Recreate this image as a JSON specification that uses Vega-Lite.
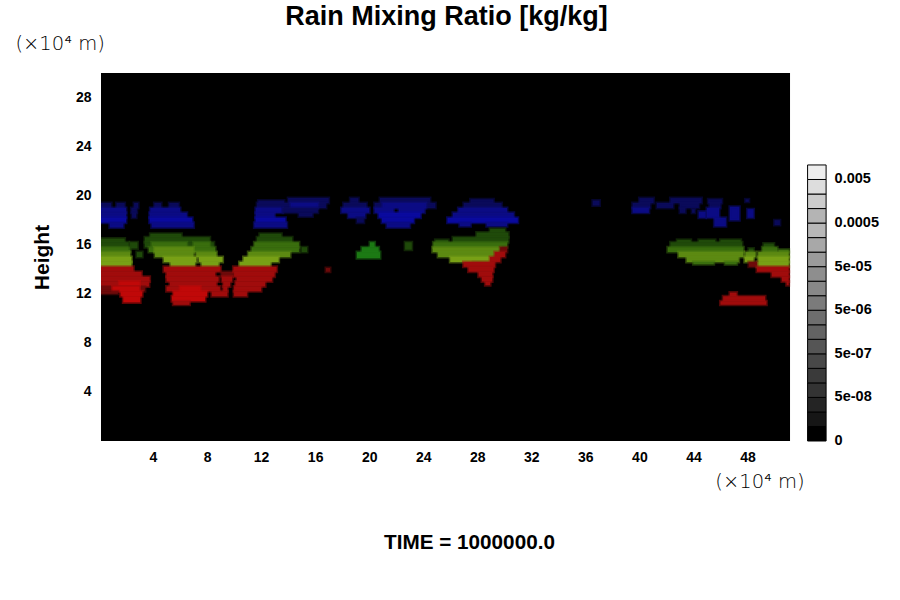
{
"$schema":"https://vega.github.io/schema/vega-lite/v6.json",
"width":799,"height":368,
"autosize":{"type":"none"},
"padding":{"left":101,"top":73,"right":0,"bottom":159},
"background":"#ffffff",
"view":{"stroke":null},
"title":{"text":"Rain Mixing Ratio [kg/kg]","anchor":"middle","dx":-54,"offset":3,"font":"Liberation Sans","fontSize":27,"fontWeight":"bold","color":"#000000"},
"datasets":{
"cells":[
{"x":0.15,"x2":51.15,"y":0,"y2":30,"c":"bg"},
{"x":0.15,"x2":0.9,"y":19,"y2":19.4,"c":"b1"},{"x":1.3,"x2":1.9,"y":19,"y2":19.4,"c":"b1"},{"x":0.15,"x2":2,"y":18.6,"y2":19,"c":"b2"},{"x":0.15,"x2":2,"y":18.2,"y2":18.6,"c":"b2"},{"x":0.15,"x2":2,"y":17.8,"y2":18.2,"c":"b3"},{"x":0.8,"x2":1.8,"y":17.4,"y2":17.8,"c":"b2"},
{"x":2.4,"x2":2.8,"y":18.6,"y2":19,"c":"b1"},{"x":2.45,"x2":2.75,"y":18.2,"y2":18.6,"c":"b1"},{"x":2.6,"x2":2.9,"y":19,"y2":19.4,"c":"b1"},
{"x":4.1,"x2":4.6,"y":19,"y2":19.4,"c":"b1"},{"x":5.2,"x2":5.9,"y":19,"y2":19.4,"c":"b1"},{"x":3.8,"x2":6,"y":18.6,"y2":19,"c":"b2"},{"x":3.75,"x2":6.5,"y":18.2,"y2":18.6,"c":"b2"},{"x":3.75,"x2":6.9,"y":17.8,"y2":18.2,"c":"b3"},{"x":3.9,"x2":7,"y":17.4,"y2":17.8,"c":"b2"},
{"x":14,"x2":17,"y":19.4,"y2":19.8,"c":"b1"},{"x":11.8,"x2":13.7,"y":19.4,"y2":19.6,"c":"b1"},{"x":11.7,"x2":16.8,"y":19,"y2":19.4,"c":"b1"},{"x":14.2,"x2":16.2,"y":19,"y2":19.4,"c":"b2"},{"x":11.6,"x2":13.6,"y":18.6,"y2":19,"c":"b2"},{"x":13.6,"x2":16.2,"y":18.6,"y2":19,"c":"b1"},{"x":11.6,"x2":13,"y":18.2,"y2":18.6,"c":"b2"},{"x":14.8,"x2":15.8,"y":18.3,"y2":18.6,"c":"b1"},{"x":11.6,"x2":13.8,"y":17.8,"y2":18.2,"c":"b3"},{"x":11.5,"x2":13.9,"y":17.4,"y2":17.8,"c":"b2"},
{"x":18.6,"x2":19.2,"y":19.4,"y2":19.8,"c":"b1"},{"x":18.1,"x2":19.8,"y":19,"y2":19.4,"c":"b1"},{"x":17.95,"x2":20,"y":18.6,"y2":19,"c":"b2"},{"x":18.45,"x2":19.7,"y":18.2,"y2":18.6,"c":"b2"},{"x":19.1,"x2":19.6,"y":17.8,"y2":18.2,"c":"b1"},
{"x":20.8,"x2":24.5,"y":19.4,"y2":19.8,"c":"b1"},{"x":20.4,"x2":24.9,"y":19,"y2":19.4,"c":"b1"},{"x":21,"x2":24.2,"y":19,"y2":19.4,"c":"b2"},{"x":20.4,"x2":21.8,"y":18.6,"y2":19,"c":"b2"},{"x":22.2,"x2":24.1,"y":18.6,"y2":19,"c":"b2"},{"x":20.7,"x2":23.8,"y":18.2,"y2":18.6,"c":"b3"},{"x":20.95,"x2":23.3,"y":17.8,"y2":18.2,"c":"b3"},{"x":21.3,"x2":23,"y":17.4,"y2":17.8,"c":"b2"},
{"x":27.5,"x2":29.2,"y":19.4,"y2":19.7,"c":"b1"},{"x":27,"x2":29.8,"y":19,"y2":19.4,"c":"b1"},{"x":26.6,"x2":30.2,"y":18.6,"y2":19,"c":"b2"},{"x":26.2,"x2":30.7,"y":18.2,"y2":18.6,"c":"b2"},{"x":25.8,"x2":31,"y":17.8,"y2":18.2,"c":"b3"},{"x":26.7,"x2":27.5,"y":17.5,"y2":17.8,"c":"b2"},{"x":28.7,"x2":30.2,"y":17.5,"y2":17.8,"c":"b2"},
{"x":36.55,"x2":37.05,"y":19.2,"y2":19.6,"c":"b1"},{"x":40,"x2":41.05,"y":19.4,"y2":19.8,"c":"b1"},{"x":39.5,"x2":40.8,"y":19,"y2":19.4,"c":"b1"},{"x":39.5,"x2":40.7,"y":18.6,"y2":19,"c":"b2"},{"x":41.3,"x2":42.5,"y":19,"y2":19.4,"c":"b1"},{"x":42.3,"x2":44.6,"y":19.4,"y2":19.8,"c":"b1"},{"x":43,"x2":44.4,"y":19,"y2":19.4,"c":"b1"},{"x":43,"x2":43.4,"y":18.6,"y2":19,"c":"b1"},{"x":43.9,"x2":44.1,"y":18.6,"y2":18.9,"c":"b1"},{"x":45.1,"x2":46.1,"y":19.4,"y2":19.7,"c":"b1"},{"x":45.2,"x2":46,"y":19,"y2":19.4,"c":"b1"},{"x":44.4,"x2":44.9,"y":18.2,"y2":18.7,"c":"b2"},{"x":45,"x2":45.9,"y":18.2,"y2":19,"c":"b2"},{"x":45.55,"x2":46.4,"y":17.5,"y2":18.2,"c":"b2"},{"x":46.7,"x2":47.4,"y":18,"y2":19.1,"c":"b2"},{"x":48,"x2":48.45,"y":18.2,"y2":18.9,"c":"b2"},{"x":47.85,"x2":48.1,"y":19.5,"y2":19.7,"c":"b1"},{"x":50,"x2":50.4,"y":17.6,"y2":18,"c":"b1"},
{"x":0.15,"x2":1.9,"y":16.2,"y2":16.5,"c":"g1"},{"x":0.15,"x2":2.2,"y":15.8,"y2":16.2,"c":"g1"},{"x":0.15,"x2":2.3,"y":15.4,"y2":15.8,"c":"g2"},{"x":0.15,"x2":2.3,"y":15,"y2":15.4,"c":"g3"},{"x":0.15,"x2":2.4,"y":14.6,"y2":15,"c":"g4"},{"x":0.15,"x2":2.4,"y":14.2,"y2":14.6,"c":"g4"},{"x":2.3,"x2":2.85,"y":15.7,"y2":16.2,"c":"g1"},{"x":2.8,"x2":3.2,"y":15,"y2":15.4,"c":"g1"},
{"x":3.8,"x2":6.1,"y":16.6,"y2":16.9,"c":"g1"},{"x":3.4,"x2":8.2,"y":16.2,"y2":16.6,"c":"g1"},{"x":3.4,"x2":8.5,"y":15.8,"y2":16.2,"c":"g1"},{"x":3.9,"x2":6.5,"y":15.8,"y2":16.2,"c":"g2"},{"x":7,"x2":8.2,"y":15.8,"y2":16.2,"c":"g2"},{"x":3.7,"x2":8.6,"y":15.4,"y2":15.8,"c":"g2"},{"x":4.1,"x2":7,"y":15.4,"y2":15.8,"c":"g3"},{"x":4.15,"x2":7,"y":15,"y2":15.4,"c":"g3"},{"x":7.2,"x2":8.7,"y":15,"y2":15.4,"c":"g3"},{"x":4.8,"x2":7.2,"y":14.6,"y2":15,"c":"g4"},{"x":7.4,"x2":9.15,"y":14.6,"y2":15,"c":"g4"},{"x":5.3,"x2":7.1,"y":14.2,"y2":14.6,"c":"g4"},{"x":7.6,"x2":8.85,"y":14.2,"y2":14.6,"c":"g4"},
{"x":11.9,"x2":13.5,"y":16.6,"y2":16.9,"c":"g1"},{"x":11.7,"x2":14.3,"y":16.2,"y2":16.6,"c":"g1"},{"x":11.5,"x2":14.8,"y":15.8,"y2":16.2,"c":"g2"},{"x":11.3,"x2":14.8,"y":15.4,"y2":15.8,"c":"g2"},{"x":15,"x2":15.4,"y":15.4,"y2":15.8,"c":"g1"},{"x":11.05,"x2":14.15,"y":15,"y2":15.4,"c":"g3"},{"x":10.7,"x2":13.3,"y":14.6,"y2":15,"c":"g4"},{"x":10.4,"x2":12.7,"y":14.2,"y2":14.6,"c":"g4"},
{"x":20.06,"x2":20.4,"y":15.8,"y2":16.2,"c":"gp"},{"x":19.45,"x2":20.7,"y":15.4,"y2":15.8,"c":"gp"},{"x":19.1,"x2":20.8,"y":14.9,"y2":15.4,"c":"gp"},{"x":22.66,"x2":23.15,"y":15.6,"y2":16.2,"c":"g1"},
{"x":28.95,"x2":30.05,"y":17,"y2":17.3,"c":"g1"},{"x":27.95,"x2":30.3,"y":16.6,"y2":17,"c":"g1"},{"x":26.2,"x2":30.3,"y":16.2,"y2":16.6,"c":"g1"},{"x":24.9,"x2":25.85,"y":16.2,"y2":16.4,"c":"g1"},{"x":24.75,"x2":30.2,"y":15.8,"y2":16.2,"c":"g2"},{"x":24.7,"x2":29.7,"y":15.4,"y2":15.8,"c":"g3"},{"x":25.1,"x2":29.3,"y":15,"y2":15.4,"c":"g3"},{"x":26,"x2":28.95,"y":14.6,"y2":15,"c":"g4"},{"x":27.7,"x2":28.7,"y":14.4,"y2":14.6,"c":"g3"},
{"x":42.8,"x2":43.8,"y":16.2,"y2":16.4,"c":"g1"},{"x":44.4,"x2":45.6,"y":16.2,"y2":16.4,"c":"g1"},{"x":46,"x2":47.5,"y":16.2,"y2":16.4,"c":"g1"},{"x":42.3,"x2":47.6,"y":15.8,"y2":16.2,"c":"g1"},{"x":42.1,"x2":47.7,"y":15.4,"y2":15.8,"c":"g2"},{"x":42.9,"x2":47.7,"y":15,"y2":15.4,"c":"g3"},{"x":43.5,"x2":47.35,"y":14.6,"y2":15,"c":"g3"},{"x":44,"x2":45.5,"y":14.4,"y2":14.6,"c":"g2"},{"x":46.35,"x2":47.2,"y":14.4,"y2":14.6,"c":"g2"},
{"x":49.2,"x2":49.95,"y":15.8,"y2":16.1,"c":"g1"},{"x":48.1,"x2":48.45,"y":15.4,"y2":15.7,"c":"g1"},{"x":49.1,"x2":50.2,"y":15.4,"y2":15.8,"c":"g2"},{"x":50.3,"x2":51.05,"y":15.4,"y2":15.6,"c":"g2"},{"x":47.85,"x2":48.6,"y":15,"y2":15.4,"c":"g3"},{"x":48.8,"x2":51.05,"y":15,"y2":15.4,"c":"g3"},{"x":47.8,"x2":48.45,"y":14.6,"y2":15,"c":"g4"},{"x":48.8,"x2":51.05,"y":14.6,"y2":15,"c":"g4"},{"x":48.7,"x2":51.05,"y":14.2,"y2":14.6,"c":"g4"},
{"x":0.15,"x2":2.55,"y":13.8,"y2":14.2,"c":"r2"},{"x":0.15,"x2":3.15,"y":13.4,"y2":13.8,"c":"r2"},{"x":0.15,"x2":3.75,"y":13,"y2":13.4,"c":"r2"},{"x":0.15,"x2":3.7,"y":12.6,"y2":13,"c":"r2"},{"x":1.5,"x2":3,"y":12.6,"y2":13,"c":"r3"},{"x":0.15,"x2":3.4,"y":12.2,"y2":12.6,"c":"r1"},{"x":1,"x2":3,"y":12.2,"y2":12.6,"c":"r3"},{"x":0.15,"x2":1.4,"y":12,"y2":12.2,"c":"r1"},{"x":1.6,"x2":3.2,"y":11.8,"y2":12.2,"c":"r3"},{"x":1.8,"x2":3.05,"y":11.3,"y2":11.8,"c":"r3"},
{"x":4.8,"x2":9,"y":13.8,"y2":14.2,"c":"r2"},{"x":5,"x2":8.6,"y":13.4,"y2":13.8,"c":"r2"},{"x":9.05,"x2":9.9,"y":13.4,"y2":13.8,"c":"r1"},{"x":5,"x2":8.85,"y":13,"y2":13.4,"c":"r2"},{"x":9.1,"x2":9.85,"y":13,"y2":13.4,"c":"r2"},{"x":5.25,"x2":8.7,"y":12.6,"y2":13,"c":"r2"},{"x":9.2,"x2":9.7,"y":12.6,"y2":13,"c":"r2"},{"x":5,"x2":8.95,"y":12.2,"y2":12.6,"c":"r2"},{"x":6,"x2":7.5,"y":12.2,"y2":12.6,"c":"r3"},{"x":9.2,"x2":9.5,"y":12.2,"y2":12.6,"c":"r2"},{"x":5.5,"x2":8,"y":11.8,"y2":12.2,"c":"r3"},{"x":8.35,"x2":9.5,"y":11.8,"y2":12.2,"c":"r2"},{"x":5.4,"x2":7.85,"y":11.4,"y2":11.8,"c":"r3"},{"x":5.5,"x2":6.7,"y":11.1,"y2":11.4,"c":"r2"},
{"x":9.95,"x2":13.15,"y":13.8,"y2":14.2,"c":"r2"},{"x":10,"x2":13,"y":13.4,"y2":13.8,"c":"r2"},{"x":10.2,"x2":12.8,"y":13,"y2":13.4,"c":"r2"},{"x":10.1,"x2":12.3,"y":12.6,"y2":13,"c":"r2"},{"x":10,"x2":12,"y":12.2,"y2":12.6,"c":"r2"},{"x":10,"x2":10.95,"y":11.8,"y2":12.2,"c":"r2"},{"x":16.8,"x2":17.1,"y":13.8,"y2":14.1,"c":"r1"},
{"x":29.7,"x2":30.2,"y":15.4,"y2":15.8,"c":"r1"},{"x":29.3,"x2":30.05,"y":15,"y2":15.4,"c":"r2"},{"x":28.95,"x2":29.7,"y":14.6,"y2":15,"c":"r2"},{"x":26.98,"x2":29.3,"y":14.2,"y2":14.6,"c":"r2"},{"x":27.35,"x2":29.2,"y":13.8,"y2":14.2,"c":"r2"},{"x":28.1,"x2":29.1,"y":13.4,"y2":13.8,"c":"r2"},{"x":28.35,"x2":29.1,"y":13,"y2":13.4,"c":"r2"},{"x":28.6,"x2":28.95,"y":12.7,"y2":13,"c":"r2"},
{"x":48.1,"x2":48.7,"y":14.2,"y2":14.6,"c":"r1"},{"x":48.7,"x2":51.05,"y":13.8,"y2":14.2,"c":"r2"},{"x":49.8,"x2":51.05,"y":13.4,"y2":13.8,"c":"r2"},{"x":50.55,"x2":51.05,"y":13,"y2":13.4,"c":"r2"},{"x":50.9,"x2":51.05,"y":12.7,"y2":13,"c":"r2"},
{"x":46.7,"x2":47.2,"y":11.8,"y2":12.1,"c":"r2"},{"x":46.2,"x2":49.3,"y":11.4,"y2":11.8,"c":"r2"},{"x":46,"x2":49.4,"y":11.1,"y2":11.4,"c":"r2"}
],
"levels":[
{"box":0,"top":1},{"box":1,"top":2},{"box":2,"top":3},{"box":3,"top":4},{"box":4,"top":5},{"box":5,"top":6},{"box":6,"top":7},{"box":7,"top":8},{"box":8,"top":9},{"box":9,"top":10},{"box":10,"top":11},{"box":11,"top":12},{"box":12,"top":13},{"box":13,"top":14},{"box":14,"top":15},{"box":15,"top":16},{"box":16,"top":17},{"box":17,"top":18},{"box":18,"top":19}
],
"ticks":[
{"at":0,"label":"0"},{"at":3,"label":"5e-08"},{"at":6,"label":"5e-07"},{"at":9,"label":"5e-06"},{"at":12,"label":"5e-05"},{"at":15,"label":"0.0005"},{"at":18,"label":"0.005"}
]
},
"layer":[
{"data":{"name":"cells"},
 "mark":{"type":"rect","strokeWidth":3,"strokeOpacity":0.5,"clip":true},
 "encoding":{
  "x":{"field":"x","type":"quantitative","scale":{"domain":[0.15,59.29],"nice":false,"zero":false},
   "axis":{"values":[4,8,12,16,20,24,28,32,36,40,44,48],"grid":false,"domain":false,"ticks":false,"labelPadding":9,"labelFont":"Liberation Sans","labelFontWeight":"bold","labelFontSize":14,"labelColor":"#000000","labelFlush":false,"labelOverlap":false,
    "title":"TIME = 1000000.0","titleFont":"Liberation Sans","titleFontWeight":"bold","titleFontSize":20.7,"titleColor":"#000000","titleX":368,"titleY":91,"titleAnchor":"middle","titleAlign":"center"}},
  "x2":{"field":"x2"},
  "y":{"field":"y","type":"quantitative","scale":{"domain":[0,30],"nice":false,"zero":false},
   "axis":{"values":[4,8,12,16,20,24,28],"grid":false,"domain":false,"ticks":false,"labelPadding":10,"labelFont":"Liberation Sans","labelFontWeight":"bold","labelFontSize":14,"labelColor":"#000000",
    "title":"Height","titleFont":"Liberation Sans","titleFontWeight":"bold","titleFontSize":21,"titleColor":"#000000","titleX":-49,"titleY":184,"titleAnchor":"middle"}},
  "y2":{"field":"y2"},
  "color":{"field":"c","type":"nominal","legend":null,
   "scale":{"domain":["bg","b1","b2","b3","g1","g2","g3","g4","gp","r1","r2","r3"],
    "range":["#000000","#0a0a5a","#0b0b84","#0a0a9e","#1f4a0a","#3a6e0e","#5c8a12","#78a016","#1c7a14","#6e0a0a","#a00c0c","#c00808"]}},
  "stroke":{"field":"c","type":"nominal","legend":null,
   "scale":{"domain":["bg","b1","b2","b3","g1","g2","g3","g4","gp","r1","r2","r3"],
    "range":["transparent","#0a0a5a","#0b0b84","#0a0a9e","#1f4a0a","#3a6e0e","#5c8a12","#78a016","#1c7a14","#6e0a0a","#a00c0c","#c00808"]}}
 }},
{"data":{"name":"levels"},
 "mark":{"type":"rect","stroke":"#000000","strokeWidth":1},
 "encoding":{
  "x":{"datum":52.45},"x2":{"datum":53.82},
  "y":{"field":"box","type":"quantitative","axis":null,"scale":{"domain":[0,25.33],"nice":false,"zero":false}},
  "y2":{"field":"top"},
  "color":{"field":"box","type":"ordinal","legend":null,
   "scale":{"domain":[0,1,2,3,4,5,6,7,8,9,10,11,12,13,14,15,16,17,18],
    "range":["#000000","#161616","#242424","#333333","#3a3a3a","#484848","#555555","#636363","#6e6e6e","#7b7b7b","#888888","#8e8e8e","#9b9b9b","#a8a8a8","#b8b8b8","#b4b4b4","#cccccc","#dddddd","#eeeeee"]}}
 }},
{"data":{"name":"ticks"},
 "mark":{"type":"text","align":"left","baseline":"middle","font":"Liberation Sans","fontWeight":"bold","fontSize":14.5,"color":"#000000"},
 "encoding":{
  "x":{"datum":54.45},
  "y":{"field":"at","type":"quantitative","axis":null,"scale":{"domain":[0,25.33],"nice":false,"zero":false}},
  "text":{"field":"label"}
 }},
{"data":{"values":[{"unit":"(×10⁴ m)"}]},
 "mark":{"type":"text","align":"center","baseline":"middle","font":"DejaVu Sans","fontWeight":200,"fontSize":19.5,"color":"#000000"},
 "encoding":{
  "x":{"datum":-2.88},
  "y":{"datum":32.4,"axis":null,"scale":{"domain":[0,30],"nice":false,"zero":false,"clamp":false}},
  "text":{"field":"unit"}
 }},
{"data":{"values":[{"unit":"(×10⁴ m)"}]},
 "mark":{"type":"text","align":"center","baseline":"middle","font":"DejaVu Sans","fontWeight":200,"fontSize":19.5,"color":"#000000"},
 "encoding":{
  "x":{"datum":48.93},
  "y":{"datum":-3.34,"axis":null,"scale":{"domain":[0,30],"nice":false,"zero":false,"clamp":false}},
  "text":{"field":"unit"}
 }}
],
"resolve":{"scale":{"y":"independent","color":"independent","stroke":"independent"}}
}
